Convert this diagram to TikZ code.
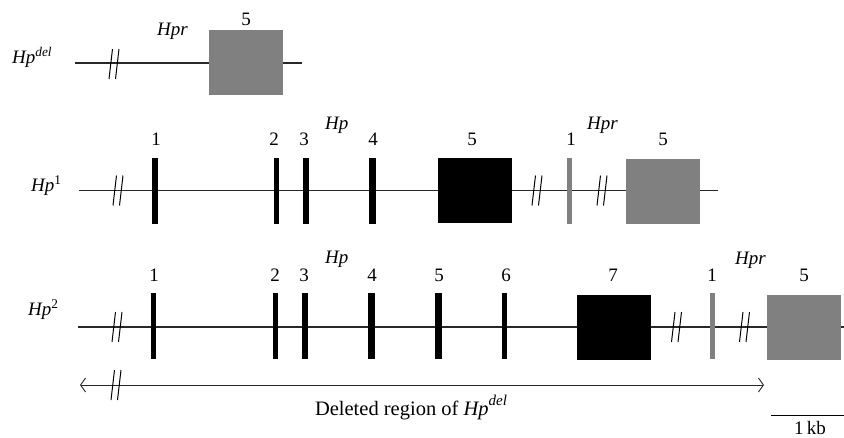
\documentclass[tikz,border=0pt]{standalone}
\usepackage{fontspec}
\setmainfont{Liberation Serif}
\usetikzlibrary{arrows.meta}
\definecolor{exgray}{RGB}{128,128,128}
\definecolor{linegray}{RGB}{40,40,40}
\begin{document}
\begin{tikzpicture}[x=1pt,y=-1pt,
  gene/.style={line width=1.3pt, draw=linegray},
  brkline/.style={line width=1pt, draw=black},
  exon/.style={fill=black, inner sep=0pt, minimum width=5.5pt, minimum height=66pt},
  wexon/.style={exon, minimum width=6.5pt},
  gexon/.style={exon, fill=exgray},
  bigbox/.style={inner sep=0pt, minimum width=74pt, minimum height=65pt},
  lbl/.style={font=\fontsize{19}{22}\selectfont, inner sep=0pt, anchor=base},
  gapmark/.pic={\draw[brkline] (-5,15) -- (-1.5,-15); \draw[brkline] (1.5,15) -- (5,-15);},
  tip/.tip={Straight Barb[length=5pt,width=14pt]}
]
\useasboundingbox (0,0) rectangle (844,437);

% ---------- Row 1: Hp^del ----------
\coordinate (r1s) at (75,63);
\coordinate (r1e) at (302,63);
\draw[gene] (r1s) -- (r1e);
\node[bigbox, fill=exgray] (r1box) at (246,62) {};
\pic at (114,64) {gapmark};
\node[lbl, anchor=base west] (r1name) at (12,63) {\textit{Hp}\textsuperscript{\textit{del}}};
\node[lbl] (r1n5) at (246,25) {5};
\node[lbl, anchor=base west] (r1hpr) at (157,35) {\textit{Hpr}};

% ---------- Row 2: Hp^1 ----------
\coordinate (r2s) at (79,190.5);
\coordinate (r2e) at (718,190.5);
\draw[gene] (r2s) -- (r2e);
\node[exon] (r2e1) at (155,190.5) {};
\node[exon] (r2e2) at (276.5,190.5) {};
\node[wexon] (r2e3) at (306,190.5) {};
\node[wexon] (r2e4) at (372.5,190.5) {};
\node[bigbox, fill=black] (r2e5) at (475,190.5) {};
\node[gexon] (r2g1) at (569.5,190.5) {};
\node[bigbox, fill=exgray] (r2g5) at (662.5,191.5) {};
\pic at (118,190.5) {gapmark};
\pic at (537,190.5) {gapmark};
\pic at (602,190.5) {gapmark};
\node[lbl, anchor=base west] (r2name) at (31,191) {\textit{Hp}\textsuperscript{1}};
\node[lbl] (r2l1) at (156,145) {1};
\node[lbl] (r2l2) at (274,145) {2};
\node[lbl] (r2l3) at (304,145) {3};
\node[lbl] (r2l4) at (373,145) {4};
\node[lbl] (r2l5) at (472,145) {5};
\node[lbl] (r2lg1) at (571,145) {1};
\node[lbl] (r2lg5) at (663,145) {5};
\node[lbl, anchor=base west] (r2hp) at (325,129) {\textit{Hp}};
\node[lbl, anchor=base west] (r2hpr) at (587,129) {\textit{Hpr}};

% ---------- Row 3: Hp^2 ----------
\coordinate (r3s) at (78,327);
\coordinate (r3e) at (844,327);
\draw[gene] (r3s) -- (r3e);
\node[exon] (r3e1) at (153.5,326) {};
\node[exon] (r3e2) at (275.5,326) {};
\node[wexon] (r3e3) at (305,326) {};
\node[wexon] (r3e4) at (371.5,326) {};
\node[wexon] (r3e5) at (438.5,326) {};
\node[exon] (r3e6) at (504.5,326) {};
\node[bigbox, fill=black] (r3e7) at (614,327) {};
\node[gexon] (r3g1) at (712.5,326) {};
\node[bigbox, fill=exgray] (r3g5) at (804,327) {};
\pic at (117,327) {gapmark};
\pic at (676.5,327) {gapmark};
\pic at (744.5,327) {gapmark};
\node[lbl, anchor=base west] (r3name) at (28,315) {\textit{Hp}\textsuperscript{2}};
\node[lbl] (r3l1) at (154,281) {1};
\node[lbl] (r3l2) at (275,281) {2};
\node[lbl] (r3l3) at (304,281) {3};
\node[lbl] (r3l4) at (372,281) {4};
\node[lbl] (r3l5) at (439,281) {5};
\node[lbl] (r3l6) at (506,281) {6};
\node[lbl] (r3l7) at (613,281) {7};
\node[lbl] (r3lg1) at (712,281) {1};
\node[lbl] (r3lg5) at (804,281) {5};
\node[lbl, anchor=base west] (r3hp) at (325,263) {\textit{Hp}};
\node[lbl, anchor=base west] (r3hpr) at (735,264) {\textit{Hpr}};

% ---------- Deleted region ----------
\coordinate (al) at (80,385);
\coordinate (ar) at (764,385);
\draw[line width=0.9pt, draw=linegray, tip-tip] (al) -- (ar);
\pic at (116,385) {gapmark};
\node[lbl, font=\fontsize{20.5}{24}\selectfont] (deltext) at (411,415) {Deleted region of \textit{Hp}\raisebox{0.45em}{\fontsize{15}{17}\selectfont\textit{del}}};

% ---------- Scale bar ----------
\coordinate (sb1) at (771,415);
\coordinate (sb2) at (844,415);
\draw[line width=1pt] (sb1) -- (sb2);
\node[lbl] (kb) at (810,434) {1\,kb};
\end{tikzpicture}
\end{document}
